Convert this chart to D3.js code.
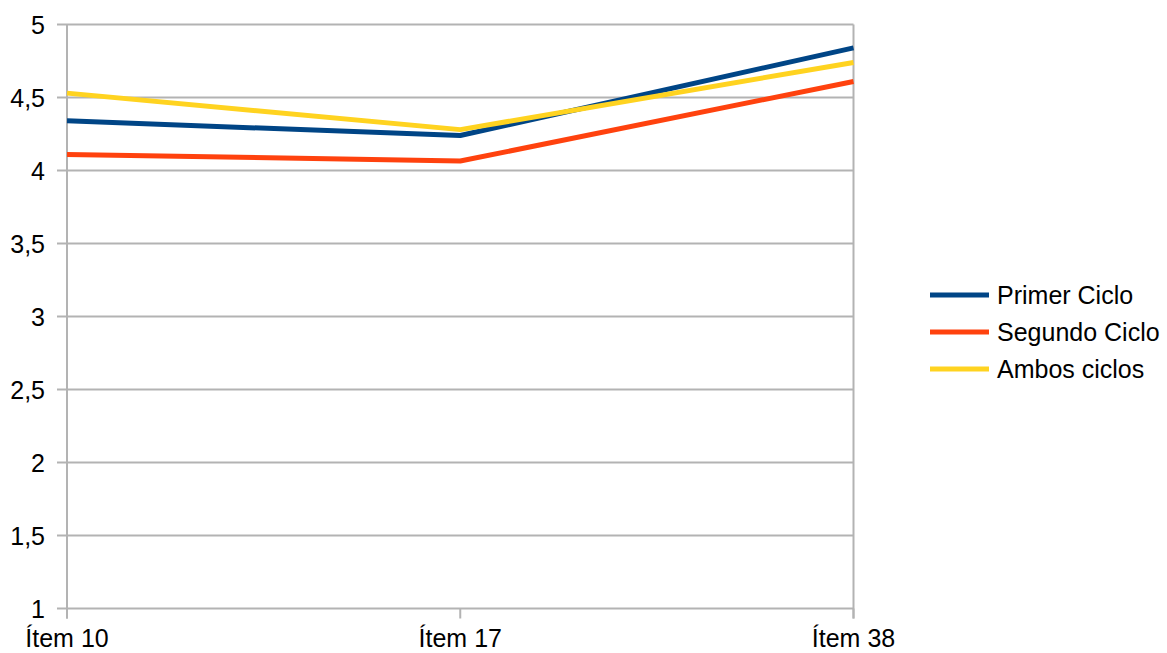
<!DOCTYPE html>
<html lang="es">
    <head>
        <meta charset="utf-8">
        <title>Ítems por ciclo</title>
        <script src='https://cdn.jsdelivr.net/npm/d3@7/dist/d3.min.js'></script>
        <style>
            body { margin: 0; background: #fff; }
            text { font-family: "Liberation Sans", Arial, sans-serif; fill: #000; }
        </style>
    </head>
    <body>
        <svg width='1167' height='653'></svg>
        <script>
            var items = ['Ítem 10', 'Ítem 17', 'Ítem 38'];
            var primerCiclo = [4.34, 4.24, 4.84];
            var segundoCiclo = [4.11, 4.065, 4.61];
            var ambosCiclos = [4.53, 4.28, 4.74];
            var seriesNames = ['Primer Ciclo', 'Segundo Ciclo', 'Ambos ciclos'];
            var seriesColors = ['#004586', '#ff420e', '#ffd320'];
            var yTicks = [1, 1.5, 2, 2.5, 3, 3.5, 4, 4.5, 5];

            var series = [primerCiclo, segundoCiclo, ambosCiclos].map((vals, i) => ({
                name: seriesNames[i], color: seriesColors[i], values: vals
            }));

            var plot = {left: 67, right: 853.5, top: 24.5, bottom: 608.5};
            var svg = d3.select('svg');

            var x = d3.scalePoint().domain(items).range([plot.left, plot.right]);
            var y = d3.scaleLinear().domain([1, 5]).range([plot.bottom, plot.top]);
            var fmt = d => String(d).replace('.', ',');

            // horizontal grid
            svg.append('g')
                .selectAll('line')
                .data(yTicks)
                .enter()
                .append('line')
                .attr('x1', plot.left - 10)
                .attr('x2', plot.right)
                .attr('y1', d => y(d))
                .attr('y2', d => y(d))
                .style('stroke', '#b3b3b3')
                .style('stroke-width', 2);

            // left axis + right border
            svg.append('g')
                .selectAll('line')
                .data([plot.left, plot.right])
                .enter()
                .append('line')
                .attr('x1', d => d).attr('x2', d => d)
                .attr('y1', plot.top).attr('y2', plot.bottom + 10)
                .style('stroke', '#b3b3b3').style('stroke-width', 2);

            // x tick marks
            svg.append('g')
                .selectAll('line')
                .data(items)
                .enter()
                .append('line')
                .attr('x1', d => x(d)).attr('x2', d => x(d))
                .attr('y1', plot.bottom).attr('y2', plot.bottom + 10)
                .style('stroke', '#b3b3b3').style('stroke-width', 2);

            // y labels
            svg.append('g')
                .selectAll('text')
                .data(yTicks)
                .enter()
                .append('text')
                .attr('x', 45)
                .attr('y', d => y(d))
                .attr('dy', '0.36em')
                .attr('text-anchor', 'end')
                .style('font-size', '25px')
                .text(fmt);

            // x labels
            svg.append('g')
                .selectAll('text')
                .data(items)
                .enter()
                .append('text')
                .attr('x', d => x(d))
                .attr('y', 647)
                .attr('text-anchor', 'middle')
                .style('font-size', '25px')
                .text(d => d);

            var line = d3.line()
                .x((d, i) => x(items[i]))
                .y(d => y(d));

            svg.append('g')
                .selectAll('path')
                .data(series)
                .enter()
                .append('path')
                .attr('d', d => line(d.values))
                .style('fill', 'none')
                .style('stroke', d => d.color)
                .style('stroke-width', 5)
                .style('stroke-linejoin', 'round');

            // legend
            var legend = svg.append('g')
                .selectAll('g')
                .data(series)
                .enter()
                .append('g')
                .attr('transform', (d, i) => 'translate(930,' + (295 + i * 37) + ')');

            legend.append('line')
                .attr('x1', 0).attr('x2', 59)
                .style('stroke', d => d.color)
                .style('stroke-width', 5);

            legend.append('text')
                .attr('x', 67)
                .attr('dy', '0.36em')
                .style('font-size', '25px')
                .text(d => d.name);
        </script>
    </body>
</html>
